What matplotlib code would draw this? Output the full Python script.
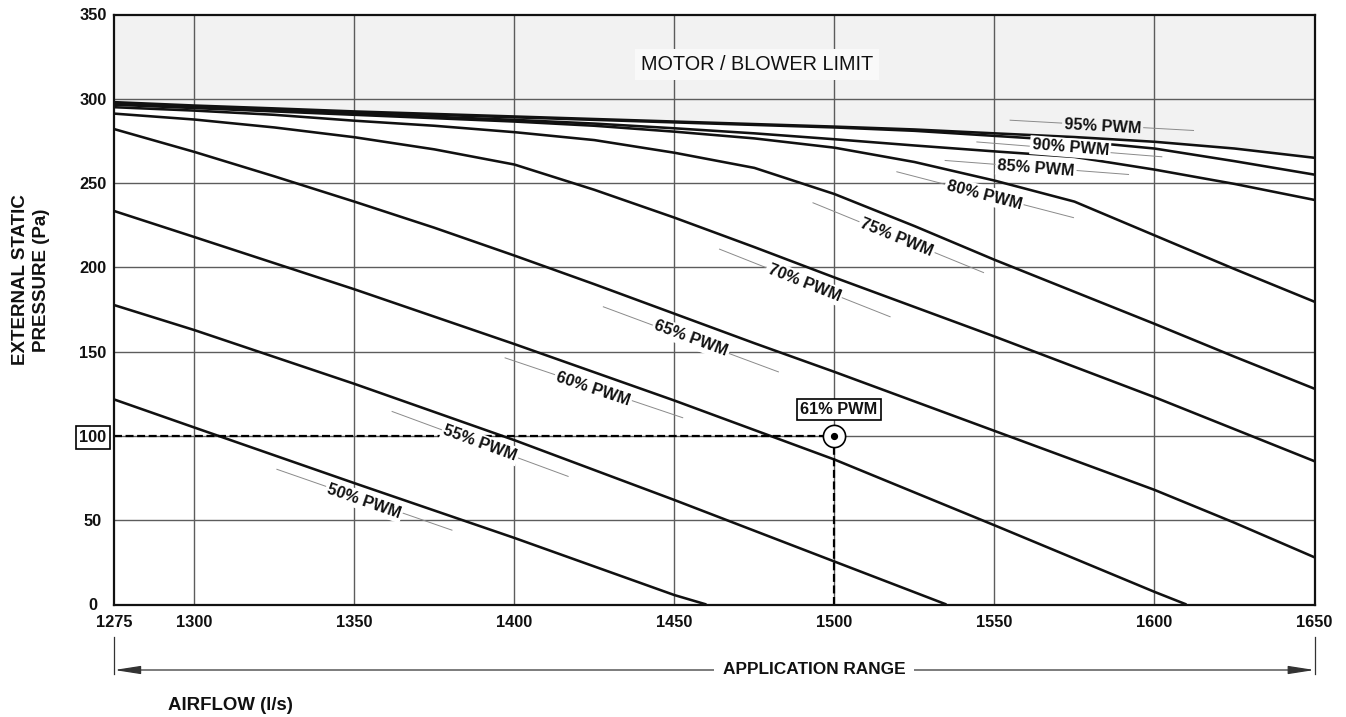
import math
import matplotlib
matplotlib.use("Agg")
import matplotlib.pyplot as plt
import matplotlib.transforms as mtransforms

plt.rcParams['font.family'] = ['Liberation Sans', 'DejaVu Sans']

# ---------------- data ----------------
airflow = [1275, 1300, 1325, 1350, 1375, 1400, 1425, 1450, 1475, 1500,
           1525, 1550, 1575, 1600, 1625, 1650]
pwm95 = [298, 296, 294.3, 292.5, 291, 289.5, 288, 286.5, 285, 283.5,
         281.8, 279.5, 277.3, 274.5, 270.5, 265]
pwm90 = [297.5, 295.5, 293.8, 292, 290.5, 289, 287.5, 286, 284.5, 283,
         281, 278, 275, 270.5, 263, 255]
pwm85 = [297, 295, 293, 291, 289.3, 287.5, 285.3, 282.5, 279.5, 276,
         272.3, 268.8, 265.5, 258, 249.5, 240]
pwm80 = [296.5, 294.5, 292.5, 290.5, 288.5, 286.5, 284, 280.5, 276.5, 271,
         262.5, 251.5, 239, 219, 199, 179.6]
pwm75 = [295, 293, 290.5, 287, 284, 280.2, 275.5, 268, 259, 243.5,
         224.5, 204.5, 185.5, 166.5, 147, 128]
pwm70 = [291.2, 287.7, 283, 277.2, 270, 261, 246, 229.5, 212, 194,
         176.5, 159, 141, 123, 104, 85]
pwm65 = [282, 268.5, 254, 239, 223.5, 207, 190, 172.5, 155, 138,
         120.5, 103, 85.5, 68, 48.5, 28]

airflow_60 = [1275, 1300, 1350, 1400, 1450, 1500, 1550, 1600, 1610]
pwm60 = [233.4, 218, 187, 154.5, 121, 86, 47, 7.5, 0]
airflow_55 = [1275, 1300, 1350, 1400, 1450, 1500, 1535]
pwm55 = [177.6, 162.8, 130.9, 97.5, 62, 25.5, 0]
airflow_50 = [1275, 1300, 1350, 1400, 1450, 1460]
pwm50 = [121.6, 105, 72, 39.5, 5.6, 0]

curve_names = ['50% PWM', '55% PWM', '60% PWM', '65% PWM', '70% PWM',
               '75% PWM', '80% PWM', '85% PWM', '90% PWM', '95% PWM']

x_ticks = [1275, 1300, 1350, 1400, 1450, 1500, 1550, 1600, 1650]
y_ticks = [0, 50, 100, 150, 200, 250, 300, 350]

duty_airflow = 1500
duty_pressure = 100
duty_label = '61% PWM'

# ---------------- layout ----------------
W, H = 1346, 717
fig = plt.figure(figsize=(W / 100, H / 100), dpi=100)
ax_left, ax_right, ax_top, ax_bottom = 114.3, 1314.5, 14.5, 604.5
ax = fig.add_axes([ax_left / W, 1 - ax_bottom / H,
                   (ax_right - ax_left) / W, (ax_bottom - ax_top) / H])
ax.set_xlim(1275, 1650)
ax.set_ylim(0, 350)

# limit zone
ax.fill_between(airflow, pwm95, 350, color='#f2f2f2', lw=0, zorder=0.5)

# grid
for xv in x_ticks[1:-1]:
    ax.axvline(xv, color='#5c5c5c', lw=1.0, zorder=1)
for yv in y_ticks[1:-1]:
    ax.axhline(yv, color='#5c5c5c', lw=1.0, zorder=1)

# curves
series = [(airflow_50, pwm50), (airflow_55, pwm55), (airflow_60, pwm60),
          (airflow, pwm65), (airflow, pwm70), (airflow, pwm75),
          (airflow, pwm80), (airflow, pwm85), (airflow, pwm90), (airflow, pwm95)]
for xs, ys in series:
    ax.plot(xs, ys, color='#111111', lw=1.85, solid_joinstyle='round',
            solid_capstyle='butt', zorder=2)

# spines / ticks
for s in ax.spines.values():
    s.set_linewidth(1.6)
    s.set_color('#111111')
    s.set_zorder(7)
ax.set_xticks(x_ticks, labels=[str(v) for v in x_ticks])
ax.set_yticks(y_ticks, labels=[str(v) for v in y_ticks])
ax.tick_params(axis='both', length=0, labelsize=11.8, labelcolor='#111111')
ax.tick_params(axis='x', pad=7.5)
ax.tick_params(axis='y', pad=15.5)
for t in ax.get_xticklabels():
    t.set_fontweight('bold')
for t in ax.get_yticklabels():
    t.set_fontweight('bold')
    t.set_horizontalalignment('center')
    if t.get_text() == str(duty_pressure):
        t.set_bbox(dict(boxstyle='square,pad=0.22', fc='white', ec='black', lw=1.2))

# curve labels: (center x, center y, leader start x, y, leader end x, y)
label_layout = [
    (1353.0, 61.3, 1325.8, 80.2, 1380.5, 44.1),
    (1389.3, 95.6, 1361.8, 114.5, 1416.8, 76.0),
    (1424.6, 128.1, 1397.1, 146.3, 1452.6, 110.8),
    (1455.2, 157.7, 1427.8, 176.6, 1482.5, 138.0),
    (1490.5, 190.8, 1464.1, 210.8, 1517.4, 170.7),
    (1519.5, 217.6, 1493.3, 238.3, 1546.6, 196.9),
    (1546.8, 242.9, 1519.5, 256.7, 1574.7, 229.5),
    (1563.0, 258.9, 1534.6, 263.4, 1591.9, 255.1),
    (1573.7, 270.9, 1544.5, 274.4, 1602.3, 265.6),
    (1583.8, 283.7, 1554.9, 287.3, 1612.2, 281.2),
]
for name, (cx, cy, sx, sy, ex, ey) in zip(curve_names, label_layout):
    in_grey = name.startswith('95')
    p0 = ax.transData.transform((sx, sy))
    p1 = ax.transData.transform((ex, ey))
    ang = math.degrees(math.atan2(p1[1] - p0[1], p1[0] - p0[0]))
    ax.plot([sx, ex], [sy, ey], color='#8a8a8a', lw=0.7,
            zorder=1.7 if in_grey else 4)
    ax.text(cx, cy, name, rotation=ang, rotation_mode='anchor',
            ha='center', va='center', fontsize=11.8, fontweight='bold',
            color='#111111', zorder=1.8 if in_grey else 5,
            bbox=dict(boxstyle='square,pad=0.12',
                      fc='#f2f2f2' if in_grey else 'white', ec='none'))

# motor limit label
ax.text(1475.7, 320.2, 'MOTOR / BLOWER LIMIT', ha='center', va='center',
        fontsize=14.3, color='#111111', zorder=3,
        bbox=dict(boxstyle='square,pad=0.3', fc='#f9f9f9', ec='none'))

# duty point
dash = (0, (3.6, 1.6))
ax.plot([1275, duty_airflow], [duty_pressure, duty_pressure], color='black',
        lw=1.6, ls=dash, zorder=3)
ax.plot([duty_airflow, duty_airflow], [0, duty_pressure], color='black',
        lw=1.6, ls=dash, zorder=3)
ax.plot([duty_airflow], [duty_pressure], 'o', ms=16, mfc='white', mec='black',
        mew=1.2, zorder=6)
ax.plot([duty_airflow], [duty_pressure], 'o', ms=4.2, color='black', zorder=6.5)
ax.text(1501.4, 115.7, duty_label, ha='center', va='center', fontsize=11.8,
        fontweight='bold', color='#111111', zorder=6,
        bbox=dict(boxstyle='square,pad=0.2', fc='white', ec='black', lw=1.2))

# application range arrow
trans = mtransforms.blended_transform_factory(ax.transData, fig.transFigure)
y_arr = 1 - 670 / H
for xv in (1275, 1650):
    ax.plot([xv, xv], [1 - 637 / H, 1 - 674 / H], transform=trans,
            color='#333333', lw=0.9, clip_on=False)
ax.annotate('', xy=(1275, y_arr), xytext=(1650, y_arr), xycoords=trans,
            textcoords=trans, annotation_clip=False,
            arrowprops=dict(arrowstyle='<|-|>,head_length=1.6,head_width=0.25',
                            color='#333333', lw=0.9, shrinkA=0, shrinkB=0,
                            mutation_scale=10))
ax.text(1493.7, y_arr, 'APPLICATION RANGE', transform=trans, ha='center',
        va='center', fontsize=12.4, fontweight='bold', color='#111111',
        bbox=dict(boxstyle='square,pad=0.5', fc='white', ec='none'), zorder=5)

# axis titles
fig.text(31 / W, 1 - 280 / H, 'EXTERNAL STATIC\nPRESSURE (Pa)', rotation=90,
         ha='center', va='center', multialignment='center', fontsize=13.5,
         fontweight='bold', linespacing=1.3, color='#111111')
fig.text(168 / W, 1 - 706 / H, 'AIRFLOW (l/s)', ha='left', va='center',
         fontsize=13.4, fontweight='bold', color='#111111')

fig.savefig('out.png', dpi=100, facecolor='white')
